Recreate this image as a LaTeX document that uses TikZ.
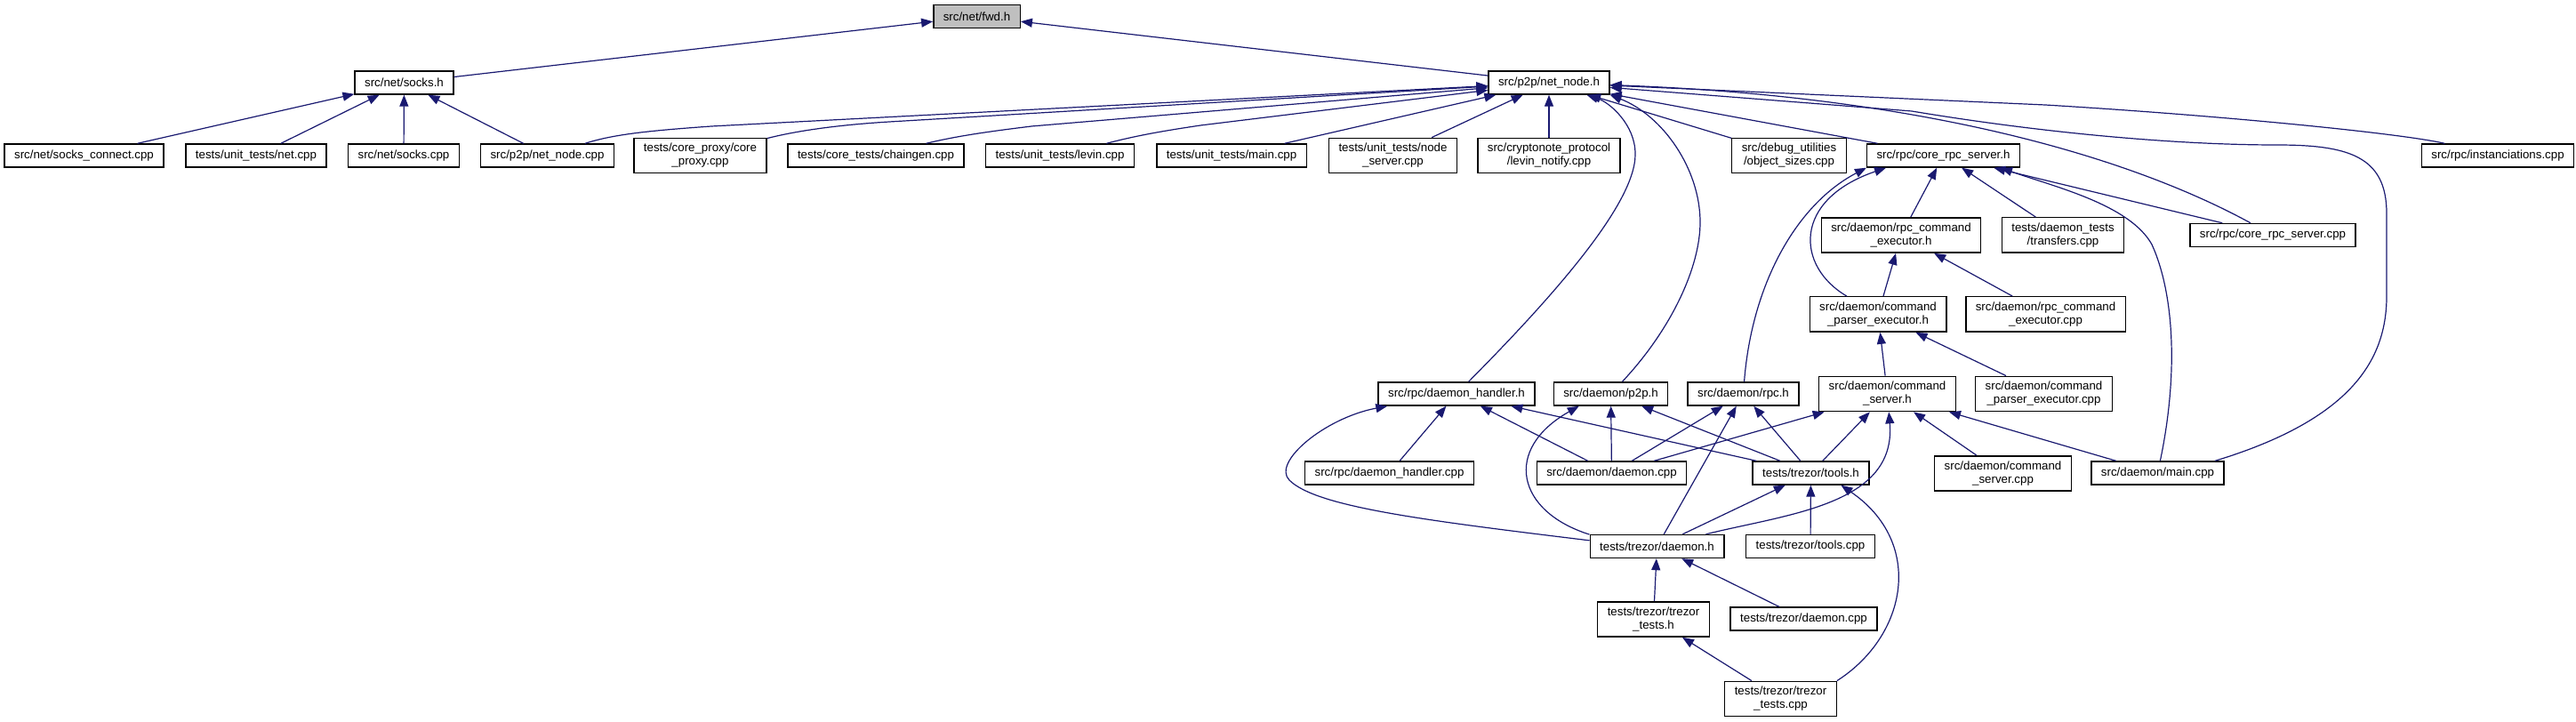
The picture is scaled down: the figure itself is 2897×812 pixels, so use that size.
\documentclass[tikz,border=0pt]{standalone}
\usepackage{fontspec}
\setmainfont{Liberation Sans}
\usetikzlibrary{arrows.meta}
\definecolor{edgeblue}{RGB}{25,25,112}

\begin{document}
\begin{tikzpicture}[x=0.5pt, y=-0.5pt,
        box/.style={draw, fill=white, align=center, font=\fontsize{6.65}{7.5}\selectfont, inner xsep=5.5pt, inner ysep=3pt, minimum height=13pt, line width=0.7pt},
        root/.style={box, fill=black!25},
        arr/.style={-{Triangle[length=6.5pt, width=5pt]}, edgeblue, line width=0.6pt}]
        \useasboundingbox (0,0) rectangle (2897,812);
        \node[root] (fwd) at (1098.5,18.5) {src/net/fwd.h};
        \node[box] (socks) at (454.5,93) {src/net/socks.h};
        \node[box] (netnode) at (1742,93) {src/p2p/net\_node.h};
        \node[box] (sockscon) at (94.5,175) {src/net/socks\_connect.cpp};
        \node[box] (utnet) at (288,175) {tests/unit\_tests/net.cpp};
        \node[box] (sockscpp) at (454,175) {src/net/socks.cpp};
        \node[box] (netnodecpp) at (615.5,175) {src/p2p/net\_node.cpp};
        \node[box] (coreproxy) at (787.5,175) {tests/core\_proxy/core\\\_proxy.cpp};
        \node[box] (chaingen) at (985,175) {tests/core\_tests/chaingen.cpp};
        \node[box] (levin) at (1192,175) {tests/unit\_tests/levin.cpp};
        \node[box] (utmain) at (1385,175) {tests/unit\_tests/main.cpp};
        \node[box] (nodeserver) at (1566.5,175) {tests/unit\_tests/node\\\_server.cpp};
        \node[box] (levinnotify) at (1742,175) {src/cryptonote\_protocol\\/levin\_notify.cpp};
        \node[box] (objsizes) at (2012,175) {src/debug\_utilities\\/object\_sizes.cpp};
        \node[box] (corerpch) at (2185.5,175) {src/rpc/core\_rpc\_server.h};
        \node[box] (instanc) at (2809,175) {src/rpc/instanciations.cpp};
        \node[box] (rpccmdh) at (2138,264.5) {src/daemon/rpc\_command\\\_executor.h};
        \node[box] (transfers) at (2320,264.5) {tests/daemon\_tests\\/transfers.cpp};
        \node[box] (corerpccpp) at (2556,264.5) {src/rpc/core\_rpc\_server.cpp};
        \node[box] (cmdparserh) at (2112,353.5) {src/daemon/command\\\_parser\_executor.h};
        \node[box] (rpccmdcpp) at (2300.5,353.5) {src/daemon/rpc\_command\\\_executor.cpp};
        \node[box] (dhandlerh) at (1638,443) {src/rpc/daemon\_handler.h};
        \node[box] (p2ph) at (1811.5,443) {src/daemon/p2p.h};
        \node[box] (rpch) at (1960.5,443) {src/daemon/rpc.h};
        \node[box] (cmdserverh) at (2122.5,443) {src/daemon/command\\\_server.h};
        \node[box] (cmdparsercpp) at (2298.5,443) {src/daemon/command\\\_parser\_executor.cpp};
        \node[box] (dhandlercpp) at (1562.5,532) {src/rpc/daemon\_handler.cpp};
        \node[box] (daemoncpp) at (1812.5,532) {src/daemon/daemon.cpp};
        \node[box] (toolsh) at (2036.5,532) {tests/trezor/tools.h};
        \node[box] (cmdservercpp) at (2252.5,532.5) {src/daemon/command\\\_server.cpp};
        \node[box] (maincpp) at (2426.5,532) {src/daemon/main.cpp};
        \node[box] (trezordaemonh) at (1863.5,614.5) {tests/trezor/daemon.h};
        \node[box] (toolscpp) at (2036,614.5) {tests/trezor/tools.cpp};
        \node[box] (trezortestsh) at (1859.5,696.5) {tests/trezor/trezor\\\_tests.h};
        \node[box] (trezordaemoncpp) at (2028.5,696) {tests/trezor/daemon.cpp};
        \node[box] (trezortestscpp) at (2002.5,786) {tests/trezor/trezor\\\_tests.cpp};

        \draw[arr] (socks) -- (fwd);
        \draw[arr] (netnode) -- (fwd);
        \draw[arr] (sockscon) -- (socks);
        \draw[arr] (utnet) -- (socks);
        \draw[arr] (sockscpp) -- (socks);
        \draw[arr] (netnodecpp) -- (socks);
        \draw[arr] (netnodecpp) .. controls (690,151) and (730,147) .. (800,142) -- (netnode);
        \draw[arr] (coreproxy) .. controls (900,146) and (950,140) .. (1000,137) -- (netnode);
        \draw[arr] (chaingen) .. controls (1080,152) and (1120,147) .. (1160,142) -- (netnode);
        \draw[arr] (levin) .. controls (1280,152) and (1310,147) .. (1350,141) -- (netnode);
        \draw[arr] (utmain) -- (netnode);
        \draw[arr] (nodeserver) -- (netnode);
        \draw[arr] (levinnotify) -- (netnode);
        \draw[arr] (objsizes) -- (netnode);
        \draw[arr] (corerpch) -- (netnode);
        \draw[arr] (corerpccpp) .. controls (2420,190) and (2200,110) .. (netnode);
        \draw[arr] (maincpp.12) .. controls (2650,470) and (2685,400) .. (2684,330) -- (2684,240) .. controls (2684,175) and (2640,163) .. (2560,163) .. controls (2450,163) and (2300,150) .. (2150,125) -- (netnode);
        \draw[arr] (instanc) .. controls (2700,150) and (2500,130) .. (2300,118) -- (netnode);
        \draw[arr] (dhandlerh) .. controls (1740,340) and (1840,230) .. (1839,173) .. controls (1839,140) and (1810,115) .. (netnode);
        \draw[arr] (p2ph) .. controls (1880,370) and (1912,300) .. (1912,250) .. controls (1912,190) and (1870,130) .. (netnode.south east);

        \draw[arr] (rpccmdh) -- (corerpch);
        \draw[arr] (transfers) -- (corerpch);
        \draw[arr] (corerpccpp) -- (corerpch);
        \draw[arr] (rpch) .. controls (1970,320) and (2020,230) .. (corerpch.189);
        \draw[arr] (cmdparserh) .. controls (2020,300) and (2015,225) .. (corerpch.192);
        \draw[arr] (maincpp) .. controls (2450,420) and (2445,330) .. (2420,275) .. controls (2395,230) and (2310,210) .. (corerpch.348);
        \draw[arr] (cmdparserh) -- (rpccmdh);
        \draw[arr] (rpccmdcpp) -- (rpccmdh);
        \draw[arr] (cmdserverh) -- (cmdparserh);
        \draw[arr] (cmdparsercpp) -- (cmdparserh);

        \draw[arr] (dhandlercpp) -- (dhandlerh);
        \draw[arr] (daemoncpp) -- (dhandlerh);
        \draw[arr] (toolsh) -- (dhandlerh);
        \draw[arr] (trezordaemonh.175) .. controls (1600,585) and (1480,570) .. (1450,540) .. controls (1430,520) and (1490,470) .. (dhandlerh.190);
        \draw[arr] (daemoncpp) -- (p2ph);
        \draw[arr] (toolsh) -- (p2ph);
        \draw[arr] (trezordaemonh.170) .. controls (1705,575) and (1690,505) .. (p2ph.201);
        \draw[arr] (daemoncpp) -- (rpch);
        \draw[arr] (trezordaemonh) -- (rpch);
        \draw[arr] (toolsh) -- (rpch);
        \draw[arr] (daemoncpp) -- (cmdserverh);
        \draw[arr] (toolsh) -- (cmdserverh);
        \draw[arr] (trezordaemonh) .. controls (2010,578) and (2133,568) .. (cmdserverh);
        \draw[arr] (cmdservercpp) -- (cmdserverh);
        \draw[arr] (maincpp) -- (cmdserverh);

        \draw[arr] (trezordaemonh) -- (toolsh);
        \draw[arr] (toolscpp) -- (toolsh);
        \draw[arr] (trezortestscpp.north east) .. controls (2145,715) and (2165,610) .. (toolsh.338);
        \draw[arr] (trezortestsh) -- (trezordaemonh);
        \draw[arr] (trezordaemoncpp) -- (trezordaemonh);
        \draw[arr] (trezortestscpp) -- (trezortestsh);
    \end{tikzpicture}
\end{document}
